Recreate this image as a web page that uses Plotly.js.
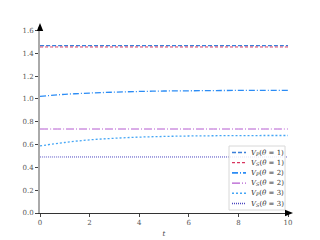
<!DOCTYPE html>
<html><head><meta charset="utf-8">
<script src="https://cdn.plot.ly/plotly-3.0.1.min.js"></script>
<style>html,body{margin:0;padding:0;background:#fff}#c{width:320px;height:240px}</style>
</head><body><div id="c"></div>
<script>
const t = [0,1,2,3,4,5,6,7,8,9,10];
const vp1 = [1.466,1.466,1.466,1.466,1.466,1.466,1.466,1.466,1.466,1.466,1.466];
const vs1 = [1.455,1.455,1.455,1.455,1.455,1.455,1.455,1.455,1.455,1.455,1.455];
const vp2 = [1.022,1.040,1.051,1.059,1.065,1.069,1.071,1.073,1.074,1.075,1.075];
const vs2 = [0.736,0.736,0.736,0.736,0.736,0.736,0.736,0.736,0.736,0.736,0.736];
const vp3 = [0.588,0.618,0.641,0.655,0.665,0.671,0.675,0.677,0.678,0.679,0.679];
const vs3 = [0.491,0.491,0.491,0.491,0.491,0.491,0.491,0.491,0.491,0.491,0.491];
const names = ['<i>V</i><sub><i>P</i></sub>(<i>θ</i> = 1)','<i>V</i><sub><i>S</i></sub>(<i>θ</i> = 1)',
  '<i>V</i><sub><i>P</i></sub>(<i>θ</i> = 2)','<i>V</i><sub><i>S</i></sub>(<i>θ</i> = 2)',
  '<i>V</i><sub><i>P</i></sub>(<i>θ</i> = 3)','<i>V</i><sub><i>S</i></sub>(<i>θ</i> = 3)'];
const series = [vp1,vs1,vp2,vs2,vp3,vs3];
const colors = ['#3b7fd9','#d9355f','#2b8cf5','#b45ad0','#45a6f5','#4a45c0'];
const dashes = ['4px,2px','3px,2px','6px,2px,1px,2px','8px,2px,1px,2px','2px,2px','1px,1px'];
const widths = [1.2,1,1.3,1,1.3,1];
const traces = series.map((y,i)=>({x:t,y:y,type:'scatter',mode:'lines',name:names[i],
  line:{color:colors[i],dash:dashes[i],width:widths[i],shape:'spline'},showlegend:false}));
const shapes = [];
const annotations = [];
const lx0=229, ly0=146, lx1=285, ly1=210, pl=40, pr=288, pt=27, pb=213;
const px = v => (v-pl)/(pr-pl), py = v => (pb-v)/(pb-pt);
shapes.push({type:'rect',xref:'paper',yref:'paper',x0:px(lx0),x1:px(lx1),y0:py(ly1),y1:py(ly0),
  line:{color:'#d8d8d8',width:1},fillcolor:'rgba(255,255,255,0.85)',layer:'above'});
for(let i=0;i<6;i++){
  const yy = 152.5 + i*10.2;
  shapes.push({type:'line',xref:'paper',yref:'paper',x0:px(232),x1:px(246),y0:py(yy),y1:py(yy),
    line:{color:colors[i],dash:dashes[i],width:widths[i]+0.3},layer:'above'});
  annotations.push({xref:'paper',yref:'paper',x:px(249),y:py(yy),xanchor:'left',yanchor:'middle',
    text:names[i],showarrow:false,font:{family:'DejaVu Serif, serif',size:7,color:'#333'}});
}
// axis arrowheads as filled triangles
const tri = pts => 'M' + pts.map(p=>px(p[0])+','+py(p[1])).join(' L') + ' Z';
shapes.push({type:'path',xref:'paper',yref:'paper',path:tri([[40,23],[36.8,31],[43.2,31]]),
  fillcolor:'#000',line:{width:0},layer:'above'});
shapes.push({type:'path',xref:'paper',yref:'paper',path:tri([[293,213],[285,209.8],[285,216.2]]),
  fillcolor:'#000',line:{width:0},layer:'above'});
const layout = {
  width:320,height:240,margin:{l:40,r:32,t:27,b:27},
  paper_bgcolor:'#fff',plot_bgcolor:'#fff',showlegend:false,
  font:{family:'DejaVu Serif, serif',size:7,color:'#444'},
  xaxis:{range:[0,10],tickvals:[0,2,4,6,8,10],ticktext:['0','2','4','6','8','10'],showgrid:false,zeroline:false,
    showline:true,linecolor:'#333',linewidth:1,ticks:'outside',ticklen:3,tickcolor:'#444',
    tickfont:{family:'DejaVu Serif, serif',size:7,color:'#555'},
    title:{text:'<i>t</i>',font:{family:'DejaVu Serif, serif',size:7,color:'#444'},standoff:4}},
  yaxis:{range:[0,1.63],tickvals:[0,0.2,0.4,0.6,0.8,1.0,1.2,1.4,1.6],
    ticktext:['0.0','0.2','0.4','0.6','0.8','1.0','1.2','1.4','1.6'],showgrid:false,zeroline:false,
    showline:true,linecolor:'#aaa',linewidth:2,ticks:'outside',ticklen:3,tickcolor:'#444',
    tickfont:{family:'DejaVu Serif, serif',size:7,color:'#555'}},
  shapes:shapes,annotations:annotations
};
Plotly.newPlot('c',traces,layout,{displayModeBar:false,staticPlot:true});
</script></body></html>
